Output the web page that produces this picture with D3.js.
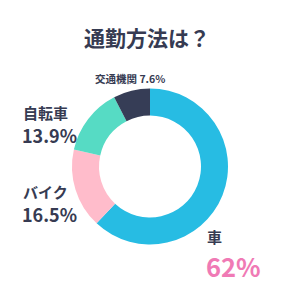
<!DOCTYPE html>
<html><head><meta charset="utf-8">
<script src="https://cdn.jsdelivr.net/npm/d3@7"></script>
<style>body{margin:0;background:#fff}svg{display:block}text{font-family:"Noto Sans CJK JP","Noto Sans",sans-serif;font-weight:700}</style>
</head><body>
<script>
const categories = ["車", "バイク", "自転車", "交通機関"];
const values = [62, 16.5, 13.9, 7.6];
const valueLabels = ["62%", "16.5%", "13.9%", "7.6%"];
const colors = ["#27bce3", "#ffbccb", "#56dbc4", "#363d56"];
const title = "通勤方法は？";

const W = 300, H = 300, cx = 150, cy = 166.5, rO = 78, rI = 51;
const dark = "#363b52";
const svg = d3.select("body").append("svg").attr("width", W).attr("height", H);

svg.append("text").attr("x", 147).attr("y", 45.5).attr("text-anchor", "middle")
  .attr("font-size", 21).attr("fill", dark).text(title);

const pie = d3.pie().sort(null).value(d => d)(values);
const arc = d3.arc().innerRadius(rI).outerRadius(rO);
const color = d3.scaleOrdinal().domain(categories).range(colors);
svg.append("g").attr("transform", `translate(${cx},${cy})`)
  .selectAll("path").data(pie).join("path")
  .attr("d", arc).attr("fill", (d, i) => color(categories[i]));

function label(i, x1, y1, s1, x2, y2, s2, fill2) {
  const t = svg.append("text").attr("fill", dark);
  t.append("tspan").attr("x", x1).attr("y", y1).attr("font-size", s1).text(categories[i]);
  t.append("tspan").attr("x", x2).attr("y", y2).attr("font-size", s2).attr("fill", fill2 || dark).text(valueLabels[i]);
}
label(0, 207, 243, 15, 206, 276.5, 25.5, "#f07ab5");
label(1, 23, 197.5, 15, 22, 221.5, 18);
label(2, 23, 119, 15, 22, 142.7, 18);
svg.append("text").attr("x", 95).attr("y", 82.5).attr("font-size", 10.5).attr("fill", dark)
  .text(categories[3] + " " + valueLabels[3]);
</script>
</body></html>
